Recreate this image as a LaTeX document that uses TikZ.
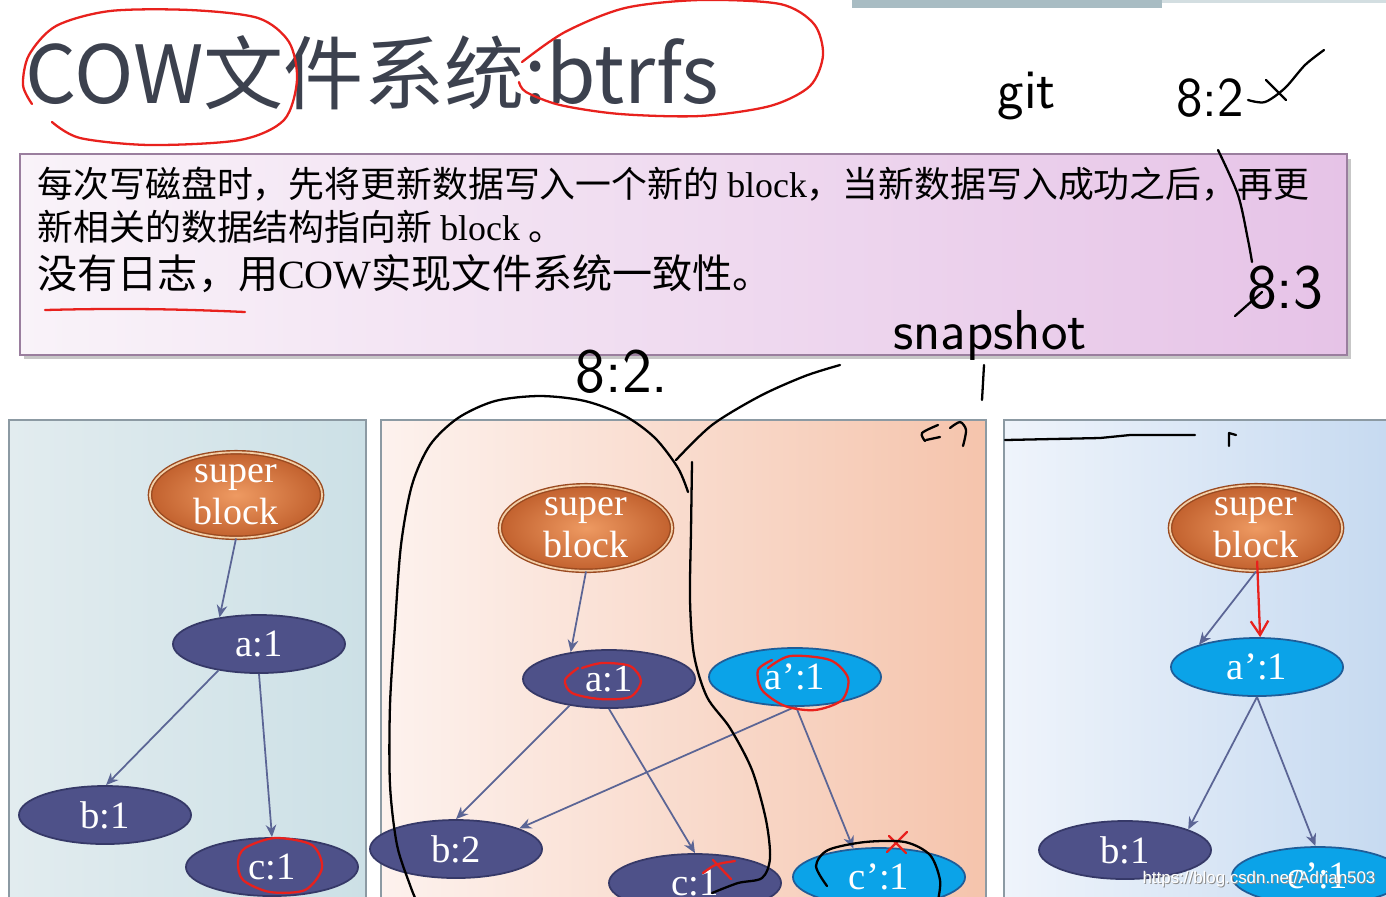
\documentclass[tikz,border=0pt]{standalone}
\usepackage{fontspec}
\setmainfont{Liberation Serif}
\newfontfamily\cjk{Noto Sans CJK SC}
\newfontfamily\wmark{Liberation Sans}
\usetikzlibrary{shapes.geometric,arrows.meta}

\definecolor{titlegray}{HTML}{3C414E}
\definecolor{barcol}{HTML}{A8BCC3}
\definecolor{boxedge}{HTML}{9A7E9E}
\definecolor{boxl}{HTML}{F9F3F9}
\definecolor{boxr}{HTML}{E6C3E7}
\definecolor{paneonel}{HTML}{E2ECEF}
\definecolor{paneoner}{HTML}{CCE0E6}
\definecolor{panetwol}{HTML}{FDF2EE}
\definecolor{panetwor}{HTML}{F5C4AC}
\definecolor{panethreel}{HTML}{EFF4FB}
\definecolor{panethreer}{HTML}{C5D9F0}
\definecolor{panegray}{HTML}{8C9AA3}
\definecolor{oldnode}{HTML}{4E5189}
\definecolor{oldedge}{HTML}{363968}
\definecolor{newnode}{HTML}{0BA3E8}
\definecolor{newedge}{HTML}{1F5D98}
\definecolor{sbin}{HTML}{EE9A62}
\definecolor{sbout}{HTML}{C2612E}
\definecolor{sbedge}{HTML}{9A4A20}
\definecolor{sbring}{HTML}{F2CFA8}
\definecolor{ptrcol}{HTML}{5B6595}
\definecolor{inkred}{HTML}{E8211D}

\begin{document}
\begin{tikzpicture}[x=0.01cm,y=-0.01cm,
  blk/.style={ellipse,minimum width=1.72cm,minimum height=0.58cm,inner sep=0pt,
    text=white,font=\fontsize{11}{12}\selectfont},
  oldblk/.style={blk,fill=oldnode,draw=oldedge,line width=0.5pt},
  newblk/.style={blk,fill=newnode,draw=newedge,line width=0.5pt},
  sblk/.style={ellipse,minimum width=1.72cm,minimum height=0.84cm,inner sep=0pt,
    inner color=sbin,outer color=sbout,draw=sbedge,double=sbring,double distance=0.5pt,
    text=white,align=center,font=\fontsize{10.8}{12}\selectfont},
  ptr/.style={draw=ptrcol,line width=0.5pt,-{Stealth[length=3.5pt,width=3pt]}},
  ink/.style={line width=0.65pt,line cap=round,line join=round},
  redink/.style={ink,draw=inkred},
  pane/.style={draw=panegray,line width=0.5pt},
  say/.style={anchor=base west,inner sep=0pt,font=\cjk\fontsize{10.2}{12}\selectfont},
  hw/.style={inner sep=0pt,font=\sffamily\fontsize{16}{16}\selectfont}
]
\useasboundingbox (0,0) rectangle (1386,896);
\clip (0,0) rectangle (1386,896);
\fill[white] (0,0) rectangle (1386,896);

% slide header bar
\fill[barcol] (852,0) rectangle (1162,8);
\fill[barcol!50] (1162,0) rectangle (1386,3);

% title
\node[anchor=base west,inner sep=0pt,text=titlegray,font=\cjk\fontsize{22.8}{24}\selectfont] (title) at (25,103) {COW文件系统:btrfs};

% text box
\fill[black!22] (24,159) rectangle (1351,359);
\draw[boxedge,line width=0.6pt,left color=boxl,right color=boxr] (20,154) rectangle (1347,355);
\node[say] (lineA) at (37,197) {每次写磁盘时，先将更新数据写入一个新的 {\rmfamily block}，当新数据写入成功之后，再更};
\node[say] (lineB) at (37,240) {新相关的数据结构指向新 {\rmfamily block} 。};
\node[say,font=\cjk\fontsize{11.4}{13}\selectfont] (lineC) at (37,288) {没有日志，用{\rmfamily COW}实现文件系统一致性。};

% three panels
\draw[pane,left color=paneonel,right color=paneoner] (9,420) rectangle (366,910);
\draw[pane,left color=panetwol,right color=panetwor] (381,420) rectangle (986,910);
\draw[pane,left color=panethreel,right color=panethreer] (1004,420) rectangle (1400,910);

% panel 1
\node[sblk] (sb1) at (236,495) {super\\block};
\node[oldblk] (a1) at (259,644) {a:1};
\node[oldblk] (b1) at (105,815) {b:1};
\node[oldblk] (c1) at (272,867) {c:1};
\draw[ptr] (sb1.south) -- (a1.146);
\draw[ptr] (a1.-147) -- (b1.88);
\draw[ptr] (a1.south) -- (c1.north);

% panel 2
\node[sblk] (sb2) at (586,528) {super\\block};
\node[oldblk] (a2) at (609,679) {a:1};
\node[newblk] (ap2) at (795,677) {a’:1};
\node[oldblk] (b2) at (456,849) {b:2};
\node[oldblk] (c2) at (695,883) {c:1};
\node[newblk] (cp2) at (879,877) {c’:1};
\draw[ptr] (sb2.south) -- (a2.145);
\draw[ptr] (a2.-146) -- (b2.north);
\draw[ptr] (a2.south) -- (c2.north);
\draw[ptr] (ap2.south) -- (b2.18);
\draw[ptr] (ap2.-88) -- (cp2.132);

% panel 3
\node[sblk] (sb3) at (1256,528) {super\\block};
\node[newblk] (a3) at (1257,667) {a’:1};
\node[oldblk] (b3) at (1125,850) {b:1};
\node[newblk] (cp3) at (1318,876) {c’:1};
\draw[ptr] (sb3.south) -- (a3.159);
\draw[ptr] (a3.south) -- (b3.18);
\draw[ptr] (a3.south) -- (cp3.95);

% red pen
\draw[redink] plot[smooth] coordinates {(52,122) (80,138) (150,145) (240,140) (284,120) (297,80) (289,42) (258,18) (190,10) (110,11) (56,26) (29,55) (23,85) (32,104)};
\draw[redink] plot[smooth] coordinates {(522,62) (565,32) (625,8) (700,0) (780,4) (814,24) (823,55) (810,86) (770,106) (700,116) (620,114) (560,105) (526,92) (519,82)};
\draw[redink] (45,310) .. controls (120,308) and (180,309) .. (245,312);
\draw[redink] plot[smooth cycle] coordinates {(245,848) (275,838) (312,845) (322,868) (305,890) (270,892) (243,880) (238,862)};
\draw[redink] plot[smooth] coordinates {(582,668) (602,663) (630,666) (641,681) (630,697) (600,699) (572,693) (565,680) (578,668)};
\draw[redink] plot[smooth] coordinates {(768,668) (790,656) (830,660) (848,678) (842,700) (815,710) (785,706) (762,690) (758,670) (772,660)};
\draw[redink] (703,873) .. controls (715,864) .. (735,861);
\draw[redink] (713,860) -- (731,879);
\draw[redink] (887,852) -- (907,832);
\draw[redink] (889,836) -- (906,853);
\draw[redink,shorten <=-0.1cm,-{Straight Barb[length=4pt,width=5pt]}] (sb3.-88) -- (a3.84);

% black pen
\draw[ink] plot[smooth] coordinates {(688,492) (678,468) (655,438) (625,416) (585,401) (540,396) (495,401) (458,418) (430,445) (412,485) (401,545) (395,625) (390,705) (390,785) (397,845) (410,885) (416,900)};
\draw[ink] plot[smooth] coordinates {(692,462) (691,530) (690,600) (694,655) (707,697) (730,728) (752,770) (766,820) (770,858) (762,878) (738,883) (712,893)};
\draw[ink] plot[smooth] coordinates {(676,460) (712,425) (760,396) (805,376) (840,365)};
\draw[ink] (984,365) -- (982,400);
\draw[ink] plot[smooth] coordinates {(938,425) (922,433) (925,441)};
\draw[ink] (926,440) -- (940,437);
\draw[ink] plot[smooth] coordinates {(950,428) (960,422) (966,430) (963,446)};
\draw[ink] (1005,440) -- (1100,438) -- (1130,435) -- (1195,435);
\draw[ink] (1229,446) -- (1229,433) -- (1236,435);
\draw[ink] plot[smooth] coordinates {(827,886) (816,866) (828,850) (865,842) (905,842) (930,855) (940,880) (938,900)};
\draw[ink] plot[smooth] coordinates {(1218,150) (1238,195) (1248,240) (1252,262)};
\draw[ink] (1235,316) -- (1262,292);
\draw[ink] plot[smooth] coordinates {(1248,100) (1265,102) (1285,88) (1305,65) (1324,50)};
\draw[ink] (1266,80) -- (1286,100);

\node[hw] (git) at (1027,96) {git};
\node[hw] (vtwo) at (1210,98) {8:2};
\node[hw,font=\sffamily\fontsize{18}{18}\selectfont] (vthree) at (1285,288) {8:3};
\node[hw,font=\sffamily\fontsize{18}{18}\selectfont] (vtwob) at (622,372) {8:2.};
\node[hw] (snap) at (990,335) {snapshot};

% watermark
\node[anchor=base east,inner sep=0pt,text=black!45,font=\wmark\fontsize{4.8}{5}\selectfont] (wmshade) at (1377,884) {https://blog.csdn.net/Adrian503};
\node[anchor=base east,inner sep=0pt,text=white,font=\wmark\fontsize{4.8}{5}\selectfont] (wm) at (1376,883) {https://blog.csdn.net/Adrian503};
\end{tikzpicture}
\end{document}
